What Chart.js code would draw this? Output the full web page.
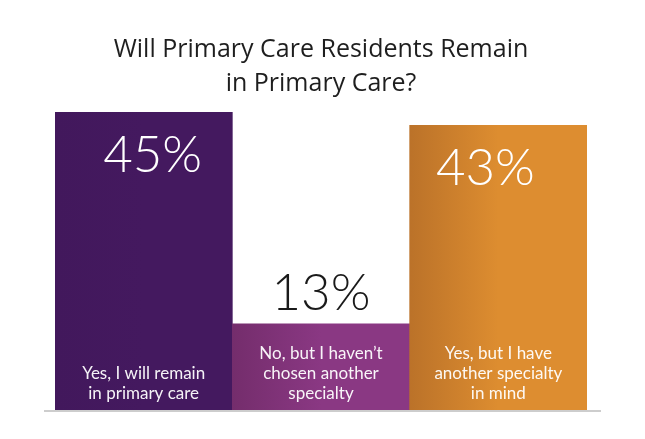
<!DOCTYPE html>
<html>
<head>
<meta charset="utf-8">
<script src="https://cdn.jsdelivr.net/npm/chart.js@4/dist/chart.umd.min.js"></script>
<style>
  html, body { margin: 0; padding: 0; background: #ffffff; }
  #wrap { width: 645px; height: 439px; }
</style>
</head>
<body>
<div id="wrap"><canvas id="c" width="645" height="439"></canvas></div>
<script>
// ---- data ----
const categories = [
  ["Yes, I will remain", "in primary care"],
  ["No, but I haven\u2019t", "chosen another", "specialty"],
  ["Yes, but I have", "another specialty", "in mind"]
];
const values = [45, 13, 43];
const titleLines = ["Will Primary Care Residents Remain", "in Primary Care?"];

// ---- styles ----
const barColorsLeft  = ["#42185c", "#742d6c", "#bb7229"];
const barColorsRight = ["#44195f", "#8a3883", "#dd8d30"];
const valueInside    = [true, false, true];
const valueXShift    = [9, 0, -13];

const barLabelsPlugin = {
  id: "barLabels",
  afterDatasetsDraw(chart) {
    const ctx = chart.ctx;
    const meta = chart.getDatasetMeta(0);
    const area = chart.chartArea;
    // baseline
    ctx.save();
    ctx.strokeStyle = "#cdcdcd";
    ctx.lineWidth = 2;
    ctx.beginPath();
    ctx.moveTo(area.left - 11, area.bottom + 1);
    ctx.lineTo(area.right + 14, area.bottom + 1);
    ctx.stroke();
    ctx.restore();

    meta.data.forEach((bar, i) => {
      const v = values[i];
      ctx.save();
      ctx.textAlign = "center";
      ctx.textBaseline = "alphabetic";
      ctx.font = "300 51px Lato, 'Open Sans', sans-serif";
      let y;
      if (valueInside[i]) {
        ctx.fillStyle = "#ffffff";
        y = bar.y + 60;
      } else {
        ctx.fillStyle = "#1a1a1a";
        y = bar.y - 14;
      }
      ctx.fillText(v + "%", bar.x + valueXShift[i], y);

      // category label at bottom of bar
      const lines = chart.data.labels[i];
      ctx.font = "400 17px Lato, 'Open Sans', sans-serif";
      ctx.fillStyle = "rgba(255,255,255,0.95)";
      ctx.textBaseline = "middle";
      const lh = 20;
      const lastY = bar.base - 16;
      lines.forEach((ln, k) => {
        ctx.fillText(ln, bar.x, lastY - (lines.length - 1 - k) * lh);
      });
      ctx.restore();
    });
  }
};

function barGradient(context) {
  const chart = context.chart;
  const i = context.dataIndex;
  const area = chart.chartArea;
  if (!area || !chart.scales.x) return barColorsRight[i];
  const xs = chart.scales.x;
  const w = (area.right - area.left) / categories.length;
  const cx = xs.getPixelForValue(i);
  const left = cx - w / 2;
  const g = chart.ctx.createLinearGradient(left, 0, left + w, 0);
  g.addColorStop(0, barColorsLeft[i]);
  g.addColorStop(0.5, barColorsRight[i]);
  g.addColorStop(1, barColorsRight[i]);
  return g;
}

new Chart(document.getElementById("c"), {
  type: "bar",
  data: {
    labels: categories,
    datasets: [{
      data: values,
      backgroundColor: barGradient,
      borderWidth: 0,
      categoryPercentage: 1.0,
      barPercentage: 1.0
    }]
  },
  options: {
    responsive: false,
    animation: false,
    devicePixelRatio: 1,
    layout: { padding: { left: 55, right: 58, top: 0, bottom: 29 } },
    scales: {
      x: { display: false },
      y: { display: false, min: 0, max: 45 }
    },
    plugins: {
      legend: { display: false },
      tooltip: { enabled: false },
      title: {
        display: true,
        text: titleLines,
        color: "#1e1e1e",
        font: { family: "'Open Sans', Lato, sans-serif", size: 25, weight: "400", lineHeight: 34 / 25 },
        padding: { top: 33, bottom: 11 }
      }
    }
  },
  plugins: [barLabelsPlugin]
});
</script>
</body>
</html>
